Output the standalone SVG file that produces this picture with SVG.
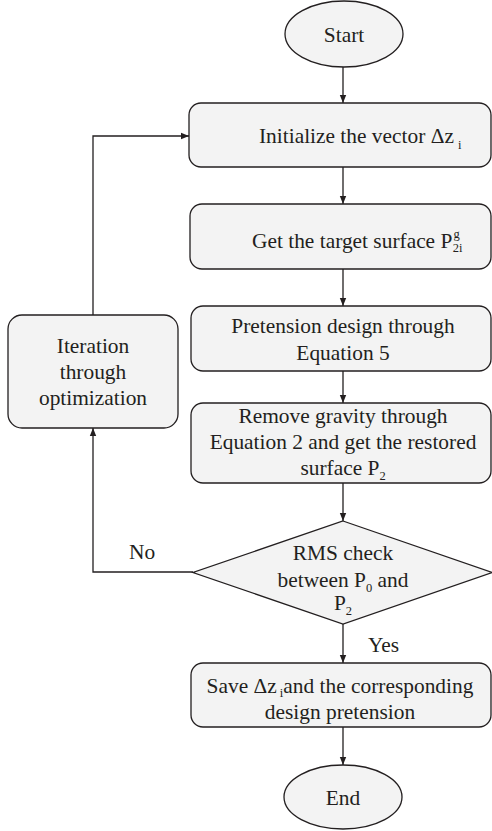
<svg xmlns="http://www.w3.org/2000/svg" width="492" height="831" viewBox="0 0 492 831">
<defs>
<marker id="ah" markerWidth="8" markerHeight="8" refX="8" refY="4" orient="auto" markerUnits="userSpaceOnUse">
<path d="M0,0.8 L8,4 L0,7.2 Z" fill="#231f20"/>
</marker>
<style>
.n{fill:#f3f3f3;stroke:#231f20;stroke-width:1.3}
.t{font-family:'Liberation Serif','DejaVu Serif',serif;font-size:21.4px;fill:#231f20}
.c{text-anchor:middle}
.s{font-size:12.5px}
.e{fill:none;stroke:#231f20;stroke-width:1.3}
</style>
</defs>
<rect width="492" height="831" fill="#ffffff"/>
<g id="connectors">
<line class="e" x1="343" y1="67" x2="343" y2="103" marker-end="url(#ah)"/>
<line class="e" x1="343" y1="167" x2="343" y2="204" marker-end="url(#ah)"/>
<line class="e" x1="343" y1="269" x2="343" y2="306" marker-end="url(#ah)"/>
<line class="e" x1="343" y1="371" x2="343" y2="403" marker-end="url(#ah)"/>
<line class="e" x1="343" y1="483" x2="343" y2="521" marker-end="url(#ah)"/>
<line class="e" x1="343" y1="624" x2="343" y2="663" marker-end="url(#ah)"/>
<line class="e" x1="343" y1="727" x2="343" y2="765" marker-end="url(#ah)"/>
<polyline class="e" points="193,572 93,572 93,428" marker-end="url(#ah)"/>
<polyline class="e" points="93,315 93,136 189,136" marker-end="url(#ah)"/>
<text class="t" x="129" y="559">No</text>
<text class="t" x="368" y="652">Yes</text>
</g>
<g id="start">
<ellipse class="n" cx="344" cy="34" rx="59" ry="33"/>
<text class="t c" x="344" y="42">Start</text>
</g>
<g id="init">
<rect class="n" x="189" y="103" width="302" height="64" rx="12"/>
<text class="t" x="259" y="143">Initialize the vector Δz<tspan class="s" dx="4" dy="6">i</tspan></text>
</g>
<g id="target">
<rect class="n" x="190" y="204" width="301" height="65" rx="12"/>
<text class="t" x="252" y="248">Get the target surface P<tspan class="s" dx="1" dy="-10">g</tspan><tspan class="s" dx="-7" dy="14">2i</tspan></text>
</g>
<g id="pretension">
<rect class="n" x="191" y="306" width="300" height="65" rx="12"/>
<text class="t c" x="343" y="333">Pretension design through</text>
<text class="t c" x="343" y="360">Equation 5</text>
</g>
<g id="gravity">
<rect class="n" x="191" y="403" width="300" height="80" rx="12"/>
<text class="t c" x="343" y="423">Remove gravity through</text>
<text class="t c" x="343" y="449">Equation 2 and get the restored</text>
<text class="t c" x="343" y="475">surface P<tspan class="s" dy="5">2</tspan></text>
</g>
<g id="iteration">
<rect class="n" x="8" y="315" width="170" height="113" rx="14"/>
<text class="t c" x="93" y="353">Iteration</text>
<text class="t c" x="93" y="379">through</text>
<text class="t c" x="93" y="405">optimization</text>
</g>
<g id="rms">
<polygon class="n" points="343,521 492,572.5 343,624 193,572.5"/>
<text class="t c" x="343" y="560">RMS check</text>
<text class="t c" x="343" y="587">between P<tspan class="s" dy="5">0</tspan><tspan dy="-5"> and</tspan></text>
<text class="t c" x="343" y="610">P<tspan class="s" dy="5">2</tspan></text>
</g>
<g id="save">
<rect class="n" x="191" y="663" width="300" height="64" rx="12"/>
<text class="t c" x="340" y="693">Save Δz<tspan class="s" dx="3" dy="4">i</tspan><tspan dy="-4">and the corresponding</tspan></text>
<text class="t c" x="340" y="719">design pretension</text>
</g>
<g id="end">
<ellipse class="n" cx="343" cy="797" rx="59" ry="32"/>
<text class="t c" x="343" y="805">End</text>
</g>
</svg>
